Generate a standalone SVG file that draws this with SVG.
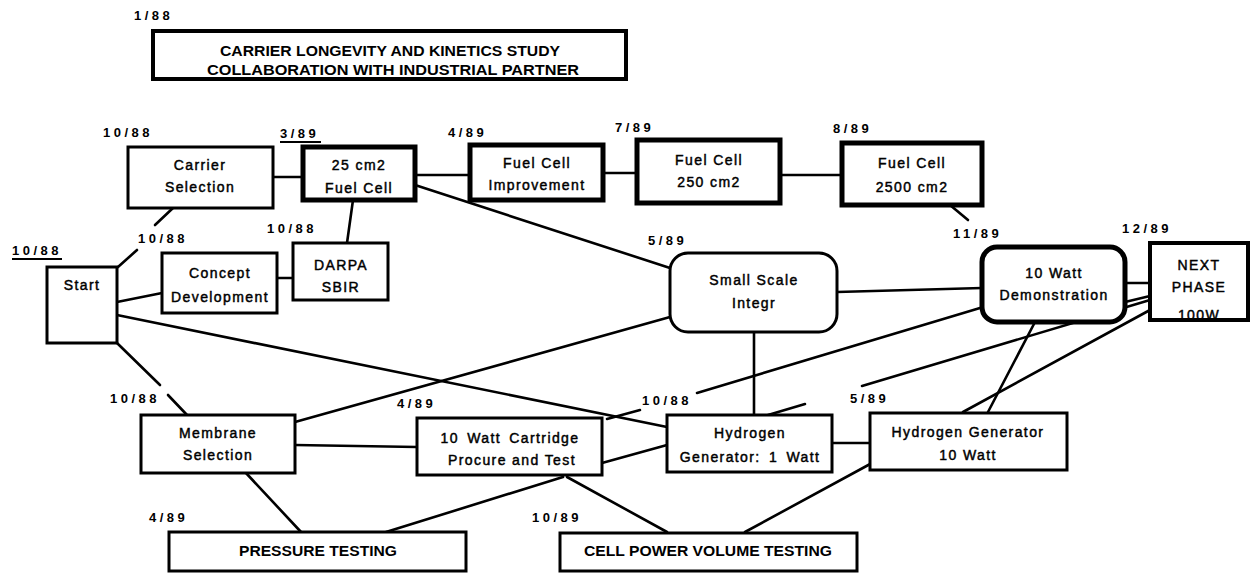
<svg xmlns="http://www.w3.org/2000/svg" width="1258" height="573" viewBox="0 0 1258 573">
<style>
.bg{fill:#fff}
.n{fill:#fff;stroke:#000;stroke-width:3}
.k{fill:#fff;stroke:#000;stroke-width:5}
.o{fill:none;stroke:#000;stroke-width:4}
.c line{stroke:#000;stroke-width:2.6;stroke-linecap:round}
.t{font-family:"Liberation Sans",Arial,sans-serif;font-size:14px;letter-spacing:1.4px;text-anchor:middle;fill:#000;stroke:#000;stroke-width:0.45}
.d{font-family:"Liberation Sans",Arial,sans-serif;font-size:13px;font-weight:bold;letter-spacing:3.5px;fill:#000}
.u{stroke:#000;stroke-width:1.8}
.cap{font-family:"Liberation Sans",Arial,sans-serif;font-size:14px;font-weight:bold;text-anchor:middle;fill:#000}
</style>
<rect class="bg" x="0" y="0" width="1258" height="573"/>

<g id="connectors" class="c">
<line x1="273" y1="177" x2="303" y2="177"/>
<line x1="415" y1="175" x2="470" y2="175"/>
<line x1="603" y1="173" x2="637" y2="173"/>
<line x1="780" y1="175" x2="842" y2="175"/>
<line x1="353" y1="200" x2="347" y2="243"/>
<line x1="277" y1="278" x2="293" y2="278"/>
<line x1="117" y1="302" x2="162" y2="293"/>
<line x1="173" y1="208" x2="155" y2="225"/>
<line x1="118" y1="267" x2="137" y2="250"/>
<line x1="415" y1="185" x2="670" y2="268"/>
<line x1="950" y1="205" x2="968" y2="220"/>
<line x1="837" y1="292" x2="982" y2="288"/>
<line x1="1125" y1="283" x2="1150" y2="283"/>
<line x1="1125" y1="302" x2="1150" y2="296"/>
<line x1="117" y1="315" x2="667" y2="427"/>
<line x1="295" y1="422" x2="670" y2="317"/>
<line x1="602" y1="463" x2="667" y2="445"/>
<line x1="980" y1="308" x2="697" y2="393"/>
<line x1="640" y1="410" x2="607" y2="419"/>
<line x1="295" y1="445" x2="417" y2="447"/>
<line x1="246" y1="473" x2="301" y2="532"/>
<line x1="563" y1="477" x2="386" y2="532"/>
<line x1="567" y1="477" x2="667" y2="532"/>
<line x1="872" y1="463" x2="745" y2="532"/>
<line x1="754" y1="332" x2="754" y2="415"/>
<line x1="832" y1="443" x2="870" y2="443"/>
<line x1="768" y1="415" x2="805" y2="404"/>
<line x1="862" y1="386" x2="1150" y2="300"/>
<line x1="963" y1="412" x2="1150" y2="310"/>
<line x1="988" y1="412" x2="1035" y2="322"/>
<line x1="117" y1="343" x2="160" y2="385"/>
<line x1="168" y1="395" x2="187" y2="415"/>
</g>

<g id="node-study">
<rect class="n" x="153" y="31" width="473" height="48" style="stroke-width:4"/>
<text class="cap" x="390" y="56" textLength="340" lengthAdjust="spacingAndGlyphs">CARRIER LONGEVITY AND KINETICS STUDY</text>
<text class="cap" x="393" y="75" textLength="372" lengthAdjust="spacingAndGlyphs">COLLABORATION WITH INDUSTRIAL PARTNER</text>
</g>
<g id="node-carrier">
<rect class="n" x="128" y="147" width="145" height="61"/>
<text class="t" x="200" y="170">Carrier</text>
<text class="t" x="200" y="192">Selection</text>
</g>
<g id="node-25cm2">
<rect class="k" x="303" y="147" width="112" height="53"/>
<text class="t" x="359" y="170">25 cm2</text>
<text class="t" x="359" y="193">Fuel Cell</text>
</g>
<g id="node-fci">
<rect class="k" x="470" y="145" width="133" height="55"/>
<text class="t" x="537" y="168">Fuel Cell</text>
<text class="t" x="537" y="190">Improvement</text>
</g>
<g id="node-250">
<rect class="k" x="637" y="140" width="143" height="63"/>
<text class="t" x="709" y="165">Fuel Cell</text>
<text class="t" x="709" y="187">250 cm2</text>
</g>
<g id="node-2500">
<rect class="k" x="842" y="143" width="140" height="62"/>
<text class="t" x="912" y="168">Fuel Cell</text>
<text class="t" x="912" y="192">2500  cm2</text>
</g>
<g id="node-start">
<rect class="n" x="47" y="267" width="70" height="76"/>
<text class="t" x="82" y="290">Start</text>
</g>
<g id="node-concept">
<rect class="n" x="162" y="253" width="115" height="60"/>
<text class="t" x="220" y="278">Concept</text>
<text class="t" x="220" y="302">Development</text>
</g>
<g id="node-darpa">
<rect class="n" x="293" y="243" width="95" height="57"/>
<text class="t" x="341" y="270">DARPA</text>
<text class="t" x="341" y="292">SBIR</text>
</g>
<g id="node-small">
<rect class="n" x="670" y="253" width="167" height="79" rx="18"/>
<text class="t" x="754" y="285">Small Scale</text>
<text class="t" x="754" y="308">Integr</text>
</g>
<g id="node-demo">
<rect class="k" x="982" y="247" width="143" height="75" rx="15"/>
<text class="t" x="1054" y="278">10 Watt</text>
<text class="t" x="1054" y="300">Demonstration</text>
</g>
<g id="node-next">
<rect x="1150" y="243" width="98" height="77" fill="#fff"/>
<text class="t" x="1199" y="270">NEXT</text>
<text class="t" x="1199" y="292">PHASE</text>
<text class="t" x="1199" y="320">100W</text>
<rect class="o" x="1150" y="243" width="98" height="77"/>
</g>
<g id="node-membrane">
<rect class="n" x="141" y="415" width="154" height="58"/>
<text class="t" x="218" y="438">Membrane</text>
<text class="t" x="218" y="460">Selection</text>
</g>
<g id="node-cartridge">
<rect class="n" x="417" y="418" width="185" height="57"/>
<text class="t" x="510" y="443" style="word-spacing:3px">10 Watt Cartridge</text>
<text class="t" x="512" y="465">Procure and Test</text>
</g>
<g id="node-h1">
<rect class="n" x="667" y="415" width="165" height="57"/>
<text class="t" x="750" y="438">Hydrogen</text>
<text class="t" x="750" y="462" style="word-spacing:3px">Generator: 1 Watt</text>
</g>
<g id="node-h10">
<rect class="n" x="870" y="413" width="197" height="57"/>
<text class="t" x="968" y="437">Hydrogen Generator</text>
<text class="t" x="968" y="460">10 Watt</text>
</g>
<g id="node-pressure">
<rect class="n" x="169" y="532" width="297" height="39"/>
<text class="cap" x="318" y="556" textLength="158" lengthAdjust="spacingAndGlyphs">PRESSURE TESTING</text>
</g>
<g id="node-cell">
<rect class="n" x="560" y="533" width="297" height="38"/>
<text class="cap" x="708" y="556" textLength="248" lengthAdjust="spacingAndGlyphs">CELL POWER VOLUME TESTING</text>
</g>

<g id="dates">
<text class="d" x="134" y="20">1/88</text>
<text class="d" x="103" y="137">10/88</text>
<text class="d" x="280" y="138">3/89</text>
<line class="u" x1="280" y1="142" x2="321" y2="142"/>
<text class="d" x="448" y="137">4/89</text>
<text class="d" x="615" y="132">7/89</text>
<text class="d" x="833" y="133">8/89</text>
<text class="d" x="267" y="233">10/88</text>
<text class="d" x="138" y="243">10/88</text>
<text class="d" x="12" y="255">10/88</text>
<line class="u" x1="12" y1="259" x2="62" y2="259"/>
<text class="d" x="648" y="245">5/89</text>
<text class="d" x="953" y="238">11/89</text>
<text class="d" x="1122" y="233">12/89</text>
<text class="d" x="110" y="403">10/88</text>
<text class="d" x="397" y="408">4/89</text>
<text class="d" x="642" y="405">10/88</text>
<text class="d" x="850" y="403">5/89</text>
<text class="d" x="149" y="522">4/89</text>
<text class="d" x="532" y="522">10/89</text>
</g>
</svg>
